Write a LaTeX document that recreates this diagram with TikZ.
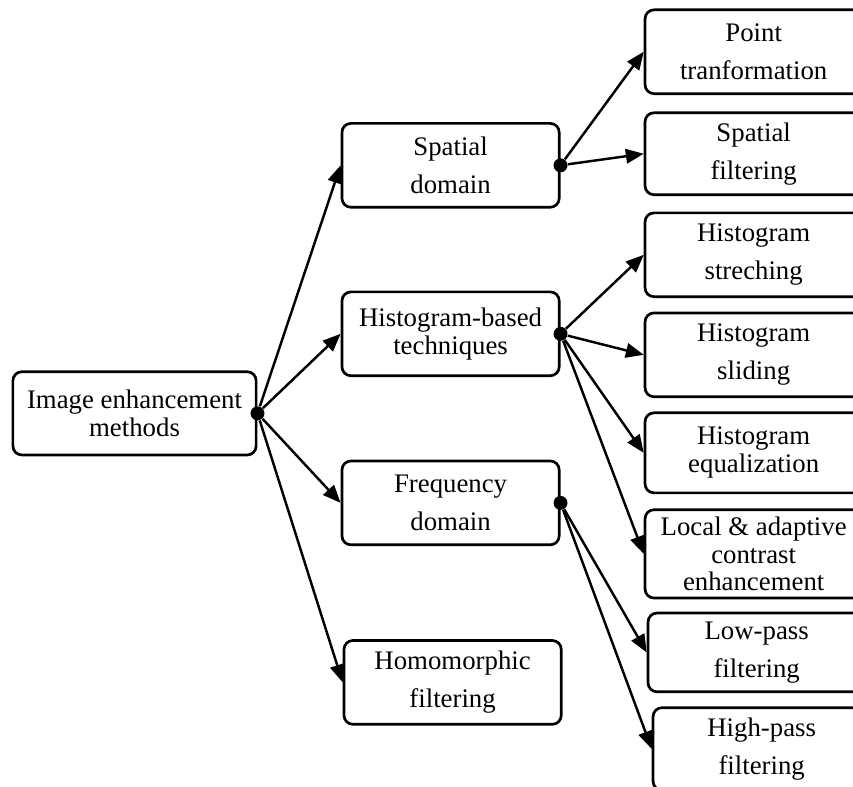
\documentclass[tikz,border=0pt]{standalone}
\usepackage{fontspec}
\setmainfont{Liberation Serif}
\usetikzlibrary{arrows.meta}
\begin{document}
\begin{tikzpicture}
	\tikzstyle{Box} = [rectangle, rounded corners=4pt, minimum width=3.42cm, minimum height=1.32cm, align=center, draw=black, line width=1.2pt, inner sep=1pt, font=\fontsize{12}{17}\selectfont]
	\tikzstyle{Tight} = [font=\fontsize{12}{12.5}\selectfont]
	\tikzstyle{Dot} = [circle, fill=black, inner sep=0pt, minimum size=0.22cm]
	\tikzstyle{arrow} = [line width=1.1pt, -{Triangle[length=8pt, width=6.5pt]}]
	
	\clip (0,0) rectangle (13.43,12.39);
	
	% left and middle column
	\node (root) [Box, minimum width=3.83cm, minimum height=1.31cm, Tight] at (2.118,5.882) {Image enhancement\\methods};
	\node (spatial) [Box] at (7.094,9.787) {Spatial\\domain};
	\node (hist) [Box, Tight] at (7.094,7.134) {Histogram-based\\techniques};
	\node (freq) [Box] at (7.094,4.472) {Frequency\\domain};
	\node (homo) [Box] at (7.126,1.646) {Homomorphic\\filtering};
	
	% right column
	\node (point) [Box] at (11.866,11.575) {Point\\tranformation};
	\node (spfilt) [Box, minimum height=1.29cm] at (11.866,9.969) {Spatial\\filtering};
	\node (stretch) [Box] at (11.866,8.378) {Histogram\\streching};
	\node (slide) [Box] at (11.866,6.803) {Histogram\\sliding};
	\node (equal) [Box, minimum height=1.26cm, Tight] at (11.866,5.260) {Histogram\\equalization};
	\node (local) [Box, minimum height=1.39cm, Tight] at (11.866,3.669) {Local \& adaptive\\contrast\\enhancement};
	\node (low) [Box, minimum height=1.24cm] at (11.913,2.118) {Low-pass\\filtering};
	\node (high) [Box, minimum height=1.30cm] at (11.992,0.598) {High-pass\\filtering};
	
	% branching dots
	\node (rootdot) [Dot] at (root.east) {};
	\node (spdot) [Dot] at (spatial.east) {};
	\node (histdot) [Dot] at (hist.east) {};
	\node (freqdot) [Dot] at (freq.east) {};
	
	\draw [arrow] (rootdot) -- (spatial.west);
	\draw [arrow] (rootdot) -- (hist.west);
	\draw [arrow] (rootdot) -- (freq.west);
	\draw [arrow] (rootdot) -- (homo.west);
	
	\draw [arrow] (spdot) -- (point.west);
	\draw [arrow] (spdot) -- (spfilt.west);
	
	\draw [arrow] (histdot) -- (stretch.west);
	\draw [arrow] (histdot) -- (slide.west);
	\draw [arrow] (histdot) -- (equal.west);
	\draw [arrow] (histdot) -- (local.west);
	
	\draw [arrow] (freqdot) -- (low.west);
	\draw [arrow] (freqdot) -- (high.west);
\end{tikzpicture}
\end{document}
